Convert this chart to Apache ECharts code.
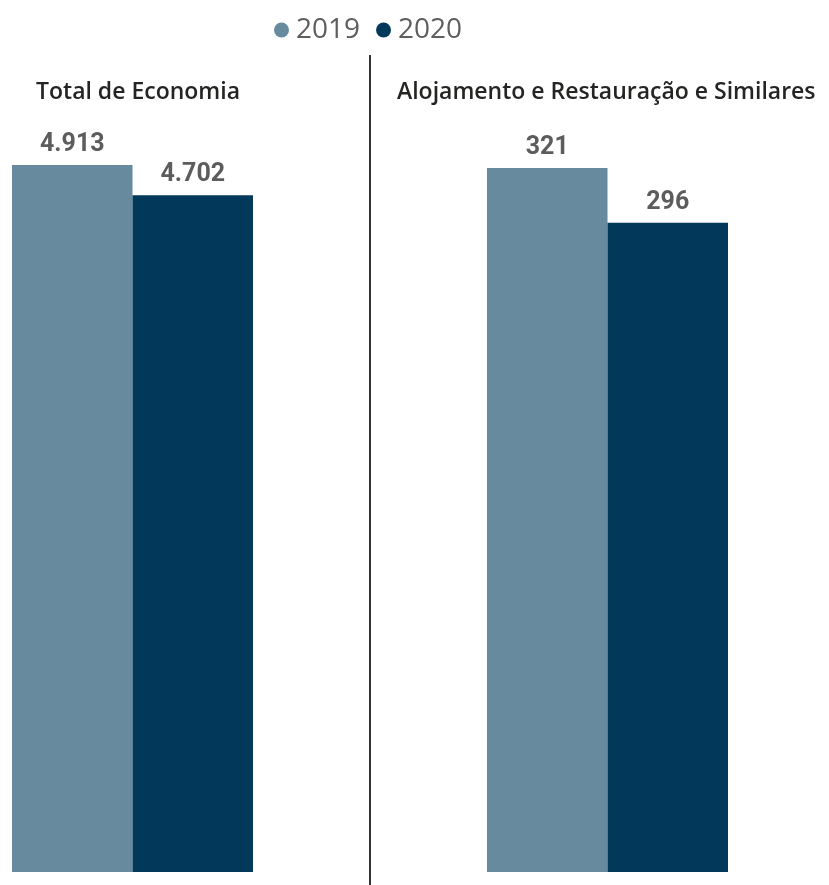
<!DOCTYPE html>
<html><head><meta charset="utf-8">
<script src="https://cdn.jsdelivr.net/npm/echarts@6/dist/echarts.min.js"></script>
<style>html,body{margin:0;padding:0;background:#fff}#c{width:829px;height:885px}</style>
</head><body><div id="c"></div>
<script>
const panels = ['Total de Economia', 'Alojamento e Restauração e Similares'];
const years = ['2019', '2020'];
const values2019 = [4913, 321];
const values2020 = [4702, 296];
const colors = ['#678A9E', '#02385A'];

const fmt = v => String(v).replace(/\B(?=(\d{3})+(?!\d))/g, '.');
const chart = echarts.init(document.getElementById('c'));
const gridLeft = [12, 487];
const gridTop = [165, 168];
const labelStyle = {show: true, position: 'top', distance: 8, fontFamily: 'Roboto', fontWeight: 'bold', fontSize: 25, color: '#5c5c5c', formatter: p => fmt(p.value)};
const series = [];
panels.forEach((p, i) => {
  [values2019, values2020].forEach((arr, j) => {
    series.push({type: 'bar', name: years[j], xAxisIndex: i, yAxisIndex: i, data: [arr[i]],
      barGap: 0, barCategoryGap: 0, itemStyle: {color: colors[j]}, label: labelStyle, silent: true});
  });
});
chart.setOption({
  animation: false,
  color: colors,
  legend: {data: years, top: 11, left: 269, icon: 'circle', itemWidth: 15, itemHeight: 15, itemGap: 16,
    textStyle: {fontFamily: 'Open Sans', fontSize: 28, color: '#605E5C', padding: [0, 0, 0, 2]}},
  title: panels.map((t, i) => ({text: t, left: i === 0 ? 31 : 392, top: 76,
    textStyle: {fontFamily: 'Open Sans', fontWeight: 600, fontSize: 23, color: '#252423'}})),
  grid: panels.map((p, i) => ({left: gridLeft[i], width: 241, top: gridTop[i], bottom: 13})),
  xAxis: panels.map((p, i) => ({type: 'category', gridIndex: i, data: [p], show: false})),
  yAxis: panels.map((p, i) => ({type: 'value', gridIndex: i, min: 0, max: 'dataMax', show: false})),
  graphic: [{type: 'line', shape: {x1: 370, y1: 55, x2: 370, y2: 885}, style: {stroke: '#333', lineWidth: 2}}],
  series: series
});
</script></body></html>
